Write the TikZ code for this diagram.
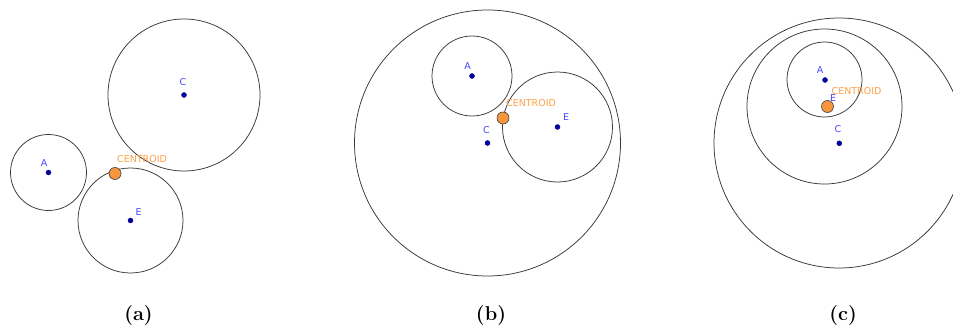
\documentclass[tikz,border=0pt]{standalone}
\usepackage{fontspec}
\newfontfamily\ggbfont{DejaVu Sans}
\usetikzlibrary{positioning}

\definecolor{ptblue}{RGB}{0,0,160}
\definecolor{lblblue}{RGB}{70,70,255}
\definecolor{ctrorange}{RGB}{247,150,60}
\definecolor{ctrtext}{RGB}{255,160,70}

\begin{document}
\begin{tikzpicture}[x=1pt, y=-1pt,
    circ/.style={draw=black!78, line width=0.75pt},
    pnt/.style={circle, fill=ptblue, draw=ptblue!80!black, inner sep=0pt, minimum size=5pt},
    lbl/.style={text=lblblue, font=\ggbfont\fontsize{9.5}{10}\selectfont, inner sep=0pt},
    ctr/.style={circle, fill=ctrorange, draw=black!75, line width=0.6pt, inner sep=0pt, minimum size=12pt},
    ctrlbl/.style={lbl, text=ctrtext},
    sublbl/.style={font=\fontsize{20}{24}\selectfont\bfseries, inner sep=0pt}]
    % 画布
    \clip (0,0) rectangle (953,329);
    \fill[white] (0,0) rectangle (953,329);

    % (a) 三个分开的圆
    \draw[circ] (48.5,172.5) circle (38pt);
    \draw[circ] (130.5,220.5) circle (52.5pt);
    \draw[circ] (184,95) circle (76pt);
    \node[pnt] (Aa) at (48.5,172.5) {};
    \node[pnt] (Ea) at (130.5,220.5) {};
    \node[pnt] (Ca) at (184,95) {};
    \node[ctr] (Ga) at (115,173.5) {};
    \node[lbl] at (44,163) {A};
    \node[lbl] at (138.5,212) {E};
    \node[lbl] at (183,82.5) {C};
    \node[ctrlbl] at (142,159) {CENTROID};

    % (b) 两个小圆在大圆内
    \draw[circ] (487.5,143) circle (133pt);
    \draw[circ] (472,76) circle (40pt);
    \draw[circ] (557.5,127) circle (55pt);
    \node[pnt] (Ab) at (472,76) {};
    \node[pnt] (Eb) at (557.5,127) {};
    \node[pnt] (Cb) at (487.5,143) {};
    \node[ctr] (Gb) at (503,118) {};
    \node[lbl] at (467.5,66) {A};
    \node[lbl] at (566,117.5) {E};
    \node[lbl] at (486.5,130) {C};
    \node[ctrlbl] at (531,103) {CENTROID};

    % (c) 三个圆层层嵌套
    \draw[circ] (839,143) circle (125pt);
    \draw[circ] (824.5,106.5) circle (77.5pt);
    \draw[circ] (824.5,79.5) circle (37.5pt);
    \node[pnt] (Ac) at (825,80) {};
    \node[pnt] (Cc) at (839.3,143.3) {};
    \node[ctr] (Gc) at (827.5,106.5) {};
    \node[lbl] at (820,70) {A};
    \node[lbl] at (833,98) {E};
    \node[lbl] at (838,129.5) {C};
    \node[ctrlbl] at (856.5,91) {CENTROID};

    % 子图标号
    \node[sublbl] (la) at (138.5,315.5) {(a)};
    \node[sublbl] (lb) at (491,315.5) {(b)};
    \node[sublbl] (lc) at (843,315.5) {(c)};
\end{tikzpicture}
\end{document}
